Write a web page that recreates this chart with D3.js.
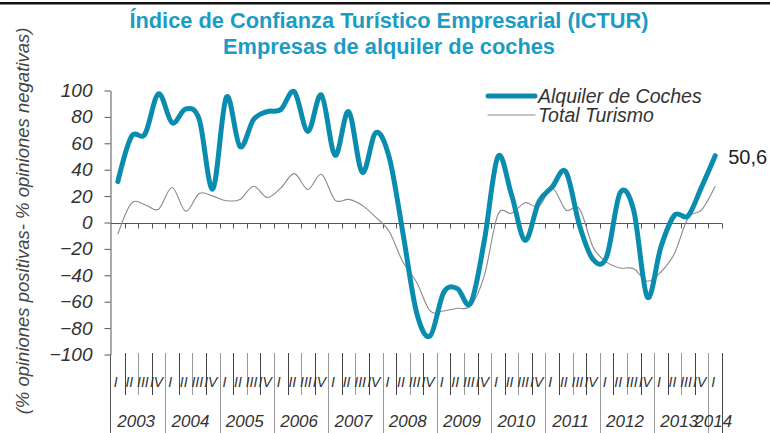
<!DOCTYPE html>
<html lang="es">
<head>
<meta charset="UTF-8">
<title>ICTUR - Alquiler de coches</title>
<script src="https://cdn.jsdelivr.net/npm/d3@7"></script>
<style>
    body { margin: 0; background: #fff; }
    svg { display: block; font-family: "Liberation Sans", Arial, sans-serif; }
</style>
</head>
<body>
<div id="chart"></div>
<script>
    // Datos (trimestres 2003-I a 2014-I)
    const years = ["2003", "2004", "2005", "2006", "2007", "2008", "2009", "2010", "2011", "2012", "2013", "2014"];
    const quarterNames = ["I", "II", "III", "IV"];
    const alquilerCoches = [31, 65, 67, 97.5, 75.5, 86, 78, 25.5, 95, 57.5, 78, 84,
        85.5, 99, 69, 96.5, 51, 84, 38, 68, 49, -8, -68, -86,
        -53, -50, -61, -13.5, 50, 21, -13.5, 15.5, 27, 38.5, -2, -28,
        -26, 22.5, 9, -56.5, -18.5, 5.5, 5, 27, 50.6];
    const totalTurismo = [-9, 14.5, 13.5, 10, 26.5, 8.5, 22, 20, 16.5, 17.5, 27.5, 19,
        26, 37, 25, 36.5, 17, 17.5, 13, 4, -7, -30, -45, -67,
        -67, -65, -63, -40, 6, 7, 15, 12, 26, 9.5, 10.5, -18.5,
        -30, -34.5, -35, -44.5, -37.5, -23.5, 3.5, 9.5, 27.5];
    const yTicks = [100, 80, 60, 40, 20, 0, -20, -40, -60, -80, -100];
    const lastLabel = "50,6";

    // categorías: año + trimestre
    const categories = [];
    years.forEach(yr => quarterNames.forEach(q => categories.push({ year: yr, q: q, key: yr + "-" + q })));
    categories.length = alquilerCoches.length;

    const W = 770, H = 433;
    const blue = "#0a8caf";
    const axisColor = "#555";

    const svg = d3.select("#chart").append("svg")
        .attr("width", W)
        .attr("height", H);

    // linea negra superior
    svg.append("rect").attr("x", 0).attr("y", 2).attr("width", W).attr("height", 2.5).attr("fill", "#111");

    const x = d3.scaleBand()
        .domain(categories.map(d => d.key))
        .range([111, 722]);
    const y = d3.scaleLinear()
        .domain([-100, 100])
        .range([354.5, 90.5]);
    const cx = i => x(categories[i].key) + x.bandwidth() / 2;

    // Titulo
    const title = svg.append("g")
        .attr("font-weight", "bold")
        .attr("font-size", 21.8)
        .attr("fill", "#1b9cc4")
        .attr("text-anchor", "middle");
    title.append("text").attr("x", 389).attr("y", 28).text("Índice de Confianza Turístico Empresarial (ICTUR)");
    title.append("text").attr("x", 389).attr("y", 54).text("Empresas de alquiler de coches");

    // Eje Y
    const yAxis = svg.append("g")
        .attr("transform", "translate(110.5,0)")
        .call(d3.axisLeft(y).tickValues(yTicks).tickSize(6).tickSizeOuter(0).tickPadding(12));
    yAxis.select(".domain").attr("stroke", axisColor);
    yAxis.selectAll(".tick line").attr("stroke", axisColor);
    yAxis.selectAll(".tick text")
        .attr("font-size", 19)
        .attr("font-style", "italic")
        .attr("fill", "#333")
        .attr("font-family", "Liberation Sans, Arial, sans-serif");

    svg.append("text")
        .attr("transform", "translate(29,221) rotate(-90)")
        .attr("text-anchor", "middle")
        .attr("font-size", 18.5)
        .attr("font-style", "italic")
        .attr("fill", "#444")
        .text("(% opiniones positivas- % opiniones negativas)");

    // Eje X en el cero con marcas en los límites de trimestre
    const y0 = Math.round(y(0)) + 0.5;
    const bounds = categories.map(d => x(d.key)).concat([x.range()[1]]);
    svg.append("line")
        .attr("x1", 111).attr("x2", x.range()[1])
        .attr("y1", y0).attr("y2", y0)
        .attr("stroke", axisColor);
    svg.append("g").selectAll("line")
        .data(bounds.slice(1))
        .join("line")
        .attr("x1", d => Math.round(d) + 0.5).attr("x2", d => Math.round(d) + 0.5)
        .attr("y1", y0).attr("y2", y0 + 5)
        .attr("stroke", axisColor);

    // Zona de categorías inferior
    const catTop = 353;
    svg.append("line")
        .attr("x1", 110.5).attr("x2", 110.5)
        .attr("y1", y(-100)).attr("y2", H)
        .attr("stroke", axisColor);
    svg.append("g").selectAll("line")
        .data(bounds.slice(1).map((b, i) => ({ b: b, yearEnd: (i + 1) % 4 === 0 || i + 1 === bounds.length - 1 })))
        .join("line")
        .attr("x1", d => Math.round(d.b) + 0.5).attr("x2", d => Math.round(d.b) + 0.5)
        .attr("y1", catTop)
        .attr("y2", d => d.yearEnd ? H : 395)
        .attr("stroke", (d, i) => i % 2 ? "#999" : "#444");

    svg.append("g")
        .attr("font-family", "Liberation Sans Narrow, Arial Narrow, Liberation Sans, sans-serif")
        .attr("font-size", 14)
        .attr("font-style", "italic")
        .attr("fill", "#333")
        .attr("text-anchor", "middle")
        .selectAll("text")
        .data(categories)
        .join("text")
        .attr("x", (d, i) => cx(i) - 2)
        .attr("y", 387)
        .text(d => d.q);

    svg.append("g")
        .attr("font-size", 17)
        .attr("font-style", "italic")
        .attr("fill", "#333")
        .attr("text-anchor", "middle")
        .selectAll("text")
        .data(years)
        .join("text")
        .attr("x", yr => {
            const idx = categories.map((c, i) => i).filter(i => categories[i].year === yr);
            return (x(categories[idx[0]].key) + x(categories[idx[idx.length - 1]].key) + x.bandwidth()) / 2 - 2;
        })
        .attr("y", 427)
        .text(yr => yr);

    // Series
    const line = d3.line()
        .x((d, i) => cx(i))
        .y(d => y(d))
        .curve(d3.curveCardinal.tension(0));

    svg.append("path")
        .datum(totalTurismo)
        .attr("d", line)
        .attr("fill", "none")
        .attr("stroke", "#8a8a8a")
        .attr("stroke-width", 1.1);

    svg.append("path")
        .datum(alquilerCoches)
        .attr("d", line)
        .attr("fill", "none")
        .attr("stroke", blue)
        .attr("stroke-width", 5)
        .attr("stroke-linejoin", "round")
        .attr("stroke-linecap", "round");

    // etiqueta del último valor
    const lastI = alquilerCoches.length - 1;
    svg.append("text")
        .attr("x", cx(lastI) + 13)
        .attr("y", y(alquilerCoches[lastI]) + 8)
        .attr("font-size", 20)
        .attr("fill", "#222")
        .text(lastLabel);

    // Leyenda
    const legend = svg.append("g");
    const legendItems = [
        { name: "Alquiler de Coches", color: blue, width: 5, yy: 96 },
        { name: "Total Turismo", color: "#8a8a8a", width: 1.1, yy: 115 }
    ];
    legendItems.forEach(it => {
        legend.append("line")
            .attr("x1", 488).attr("x2", 535)
            .attr("y1", it.yy).attr("y2", it.yy)
            .attr("stroke", it.color)
            .attr("stroke-width", it.width)
            .attr("stroke-linecap", "round");
        legend.append("text")
            .attr("x", 538).attr("y", it.yy + 7)
            .attr("font-size", 19.5)
            .attr("font-style", "italic")
            .attr("fill", "#333")
            .text(it.name);
    });
</script>
</body>
</html>
